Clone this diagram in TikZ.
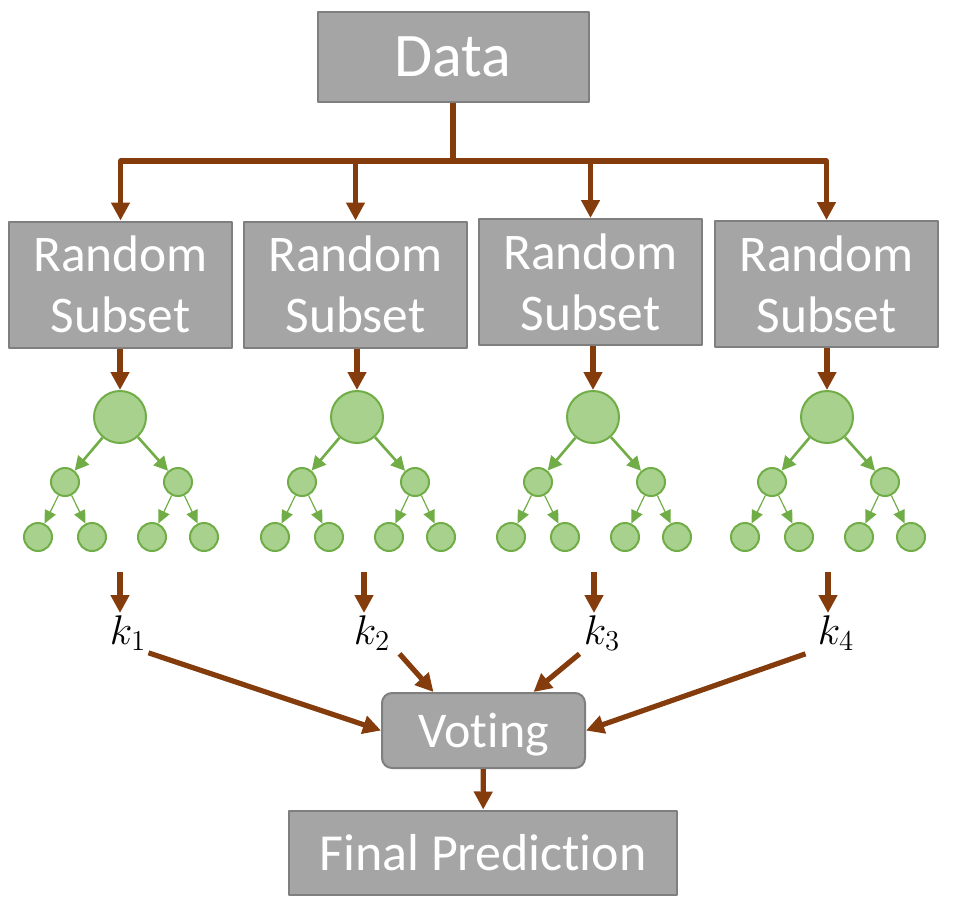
\documentclass[tikz,border=0pt]{standalone}
\usepackage{fontspec}
\setmainfont{Carlito}[Ligatures=CommonOff]
\usetikzlibrary{arrows.meta}
\definecolor{boxgray}{HTML}{A5A5A5}
\definecolor{boxline}{HTML}{7F7F7F}
\definecolor{flowbrown}{HTML}{843C0C}
\definecolor{leaffill}{HTML}{A9D18E}
\definecolor{leafline}{HTML}{70AD47}
\begin{document}
\begin{tikzpicture}[x=0.5pt,y=-0.5pt,line join=round,
  box/.style={draw=boxline,line width=1pt,fill=boxgray,text=white,inner sep=0pt,align=center},
  flow/.style={draw=flowbrown,line width=2.6pt,-{Triangle[width=9pt,length=9pt]}},
  bigleaf/.style={circle,draw=leafline,fill=leaffill,line width=1pt,minimum size=26pt,inner sep=0pt},
  leaf/.style={circle,draw=leafline,fill=leaffill,line width=1pt,minimum size=14pt,inner sep=0pt},
  split/.style={draw=leafline,line width=1.3pt,-{Triangle[width=7pt,length=7pt]}},
  thinsplit/.style={draw=leafline,line width=0.6pt,-{Triangle[width=6pt,length=6.5pt]}},
  klabel/.style={inner sep=1pt,font=\fontsize{22}{26}\selectfont}]
  \useasboundingbox (0,0) rectangle (958,916);
  % boxes
  \node[box,minimum width=135.5pt,minimum height=45pt,font=\fontsize{31}{36}\selectfont] (data) at (453,57) {Data};
  \foreach \i/\x/\y in {1/120.5/284.5,2/355.5/284.5,3/590.5/282,4/826.5/284}
    \node[box,minimum width=111.5pt,minimum height=63pt,font=\fontsize{25.7}{30.5}\selectfont] (sub\i) at (\x,\y) {Random\\Subset};
  \node[box,rounded corners=5pt,minimum width=101.5pt,minimum height=37.5pt,text depth=0pt,font=\fontsize{25}{28}\selectfont] (vote) at (483.5,730.5) {Voting};
  \node[box,minimum width=194pt,minimum height=42pt,font=\fontsize{26}{30}\selectfont] (final) at (483,852.5) {Final Prediction};
  % trees
  \foreach \i/\x in {1/120,2/357,3/593,4/827} {
    \node[bigleaf] (root\i) at (\x,417) {};
    \node[leaf] (nl\i) at (\x-55,482) {};
    \node[leaf] (nr\i) at (\x+58,482) {};
    \node[leaf] (nla\i) at (\x-82,537) {};
    \node[leaf] (nlb\i) at (\x-28,537) {};
    \node[leaf] (nra\i) at (\x+32,537) {};
    \node[leaf] (nrb\i) at (\x+84,537) {};
    \draw[split] (root\i) -- (nl\i);
    \draw[split] (root\i) -- (nr\i);
    \draw[thinsplit] (nl\i) -- (nla\i);
    \draw[thinsplit] (nl\i) -- (nlb\i);
    \draw[thinsplit] (nr\i) -- (nra\i);
    \draw[thinsplit] (nr\i) -- (nrb\i);
    \draw[flow] (sub\i.south -| root\i) -- (root\i.north);
  }
  % outputs
  \foreach \i/\x in {1/120,2/364,3/594,4/828} {
    \coordinate (out\i) at (\x,572);
    \node[klabel,anchor=north] (k\i) at (\x+8,613) {$k_{\i}$};
    \draw[flow] (out\i) -- (out\i |- k\i.north);
  }
  % connectors
  \foreach \i in {1,...,4}
    \draw[flow] (data.south) -- ++(0,58) -| (sub\i.north);
  \draw[flow] (k1.south east) -- (vote.west);
  \draw[flow] ([shift={(7,1)}]k2.south east) -- ([shift={(-50,0)}]vote.north);
  \draw[flow] ([shift={(-2,1)}]k3.south west) -- ([shift={(50,0)}]vote.north);
  \draw[flow] ([shift={(-10,1)}]k4.south west) -- (vote.east);
  \draw[flow] (vote) -- (final);
\end{tikzpicture}
\end{document}
